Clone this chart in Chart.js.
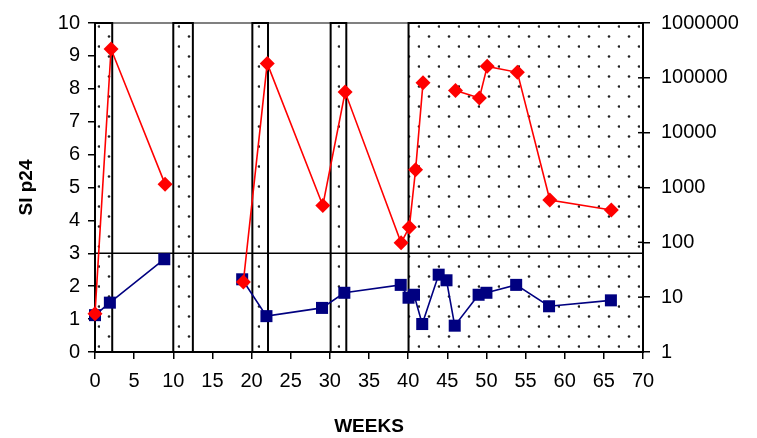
<!DOCTYPE html>
<html>
<head>
<meta charset="utf-8">
<script src="https://cdn.jsdelivr.net/npm/chart.js@4/dist/chart.umd.min.js"></script>
<style>
  body { margin: 0; background: #fff; }
</style>
</head>
<body>
<canvas id="chart" width="757" height="438"></canvas>
<script>
// SI p24 (left axis), null = break in the line
let weeksSI = [0, 1.9, 8.85, 14, 18.8, 21.9, 29.0, 31.85, 39.05, 40.05, 40.75, 41.8, 43.9, 44.9, 45.95, 49.0, 50.0, 53.8, 58.0, 65.9];
let valuesSI = [1.12, 1.50, 2.82, null, 2.21, 1.09, 1.34, 1.80, 2.04, 1.65, 1.74, 0.85, 2.35, 2.18, 0.80, 1.74, 1.80, 2.04, 1.39, 1.57];

// p24 (right log axis)
let weeksP24 = [0, 2.05, 8.95, 14, 18.95, 22.0, 29.1, 31.95, 39.1, 40.15, 40.95, 41.9, 44, 46.05, 49.1, 50.1, 53.95, 58.1, 65.95];
let valuesP24 = [5, 335000, 1150, null, 19, 183000, 470, 55000, 98, 189, 2110, 81000, null, 59000, 43000, 162000, 126000, 590, 390];

// shaded periods (weeks)
let periodStart = [0, 10, 20.1, 30.1, 40.05];
let periodEnd = [2.2, 12.5, 22.1, 32.1, 70];

let cutoffSI = 3;
let xTicks = [0, 5, 10, 15, 20, 25, 30, 35, 40, 45, 50, 55, 60, 65, 70];
let leftTicks = [0, 1, 2, 3, 4, 5, 6, 7, 8, 9, 10];
let rightTicks = [1, 10, 100, 1000, 10000, 100000, 1000000];

const FONT = '"Liberation Sans", Arial, sans-serif';

// dotted fill
function makePattern(ctx) {
    let tile = document.createElement('canvas');
    tile.width = 20;
    tile.height = 20;
    let t = tile.getContext('2d');
    t.fillStyle = '#222';
    t.beginPath();
    t.arc(19, 6.5, 1.3, 0, Math.PI * 2);
    t.fill();
    t.beginPath();
    t.arc(9, 16.5, 1.3, 0, Math.PI * 2);
    t.fill();
    return ctx.createPattern(tile, 'repeat');
}

const backgroundPlugin = {
    id: 'background',
    beforeDatasetsDraw(chart) {
        let ctx = chart.ctx;
        let area = chart.chartArea;
        let x = chart.scales.x;
        let y = chart.scales.y;
        ctx.save();

        // top frame line
        ctx.strokeStyle = '#808080';
        ctx.lineWidth = 2;
        ctx.beginPath();
        ctx.moveTo(area.left, area.top);
        ctx.lineTo(area.right, area.top);
        ctx.stroke();

        // shaded periods
        let pattern = makePattern(ctx);
        for (let i = 0; i < periodStart.length; i++) {
            let x0 = x.getPixelForValue(periodStart[i]);
            let x1 = x.getPixelForValue(periodEnd[i]);
            ctx.fillStyle = pattern;
            ctx.fillRect(x0, area.top, x1 - x0, area.bottom - area.top);
            ctx.strokeStyle = '#000';
            ctx.lineWidth = 2;
            ctx.strokeRect(x0, area.top, x1 - x0, area.bottom - area.top);
        }

        // cutoff line
        let yc = y.getPixelForValue(cutoffSI);
        ctx.strokeStyle = '#000';
        ctx.lineWidth = 1.5;
        ctx.beginPath();
        ctx.moveTo(area.left, yc);
        ctx.lineTo(area.right, yc);
        ctx.stroke();
        ctx.restore();
    },
    afterDatasetsDraw(chart) {
        // right axis ticks cross the axis line
        let ctx = chart.ctx;
        let area = chart.chartArea;
        let y2 = chart.scales.y2;
        ctx.save();
        ctx.strokeStyle = '#000';
        ctx.lineWidth = 1.5;
        rightTicks.forEach(v => {
            let py = y2.getPixelForValue(v);
            ctx.beginPath();
            ctx.moveTo(area.right - 5, py);
            ctx.lineTo(area.right, py);
            ctx.stroke();
        });
        ctx.restore();
    }
};

let siData = weeksSI.map((w, i) => ({ x: w, y: valuesSI[i] }));
let p24Data = weeksP24.map((w, i) => ({ x: w, y: valuesP24[i] }));

new Chart(document.getElementById('chart'), {
    type: 'line',
    data: {
        datasets: [{
            label: 'SI',
            data: siData,
            yAxisID: 'y',
            order: 1,
            clip: false,
            borderColor: '#000080',
            borderWidth: 1.6,
            pointStyle: 'rect',
            pointRadius: 8.5,
            pointBackgroundColor: '#000080',
            pointBorderColor: '#000080',
            pointBorderWidth: 0,
            tension: 0
        }, {
            label: 'p24',
            data: p24Data,
            yAxisID: 'y2',
            order: 0,
            clip: false,
            borderColor: '#ff0000',
            borderWidth: 1.6,
            pointStyle: 'rectRot',
            pointRadius: 7.5,
            pointBackgroundColor: '#ff0000',
            pointBorderColor: '#ff0000',
            pointBorderWidth: 0,
            tension: 0
        }]
    },
    options: {
        responsive: false,
        animation: false,
        layout: { padding: { top: 16, left: 0, right: 0, bottom: 0 } },
        plugins: {
            legend: { display: false },
            tooltip: { enabled: false }
        },
        scales: {
            x: {
                type: 'linear',
                min: 0,
                max: 70,
                afterBuildTicks: s => { s.ticks = xTicks.map(v => ({ value: v })); },
                afterFit: s => { s.height = 86; },
                ticks: { color: '#000', font: { family: FONT, size: 20 }, padding: 10, maxRotation: 0, autoSkip: false },
                grid: { drawOnChartArea: false, tickLength: 7, color: '#000', lineWidth: 1.5 },
                border: { color: '#000', width: 2 },
                title: {
                    display: true,
                    text: 'WEEKS',
                    color: '#000',
                    font: { family: FONT, size: 19, weight: 'bold' },
                    padding: { top: 0, bottom: 0 }
                }
            },
            y: {
                position: 'left',
                min: 0,
                max: 10,
                afterBuildTicks: s => { s.ticks = leftTicks.map(v => ({ value: v })); },
                afterFit: s => { s.width = 95; },
                ticks: { color: '#000', font: { family: FONT, size: 20 }, padding: 8 },
                grid: { drawOnChartArea: false, tickLength: 7, color: '#000', lineWidth: 1.5 },
                border: { color: '#000', width: 2 },
                title: {
                    display: true,
                    text: 'SI p24',
                    color: '#000',
                    font: { family: FONT, size: 19, weight: 'bold' },
                    padding: { top: 15, bottom: 0 }
                }
            },
            y2: {
                type: 'logarithmic',
                position: 'right',
                min: 1,
                max: 1000000,
                afterBuildTicks: s => { s.ticks = rightTicks.map(v => ({ value: v })); },
                afterFit: s => { s.width = 114; },
                ticks: {
                    color: '#000',
                    font: { family: FONT, size: 20 },
                    padding: 11,
                    callback: v => String(v)
                },
                grid: { drawOnChartArea: false, tickLength: 7, color: '#000', lineWidth: 1.5 },
                border: { color: '#000', width: 2 }
            }
        }
    },
    plugins: [backgroundPlugin]
});
</script>
</body>
</html>
